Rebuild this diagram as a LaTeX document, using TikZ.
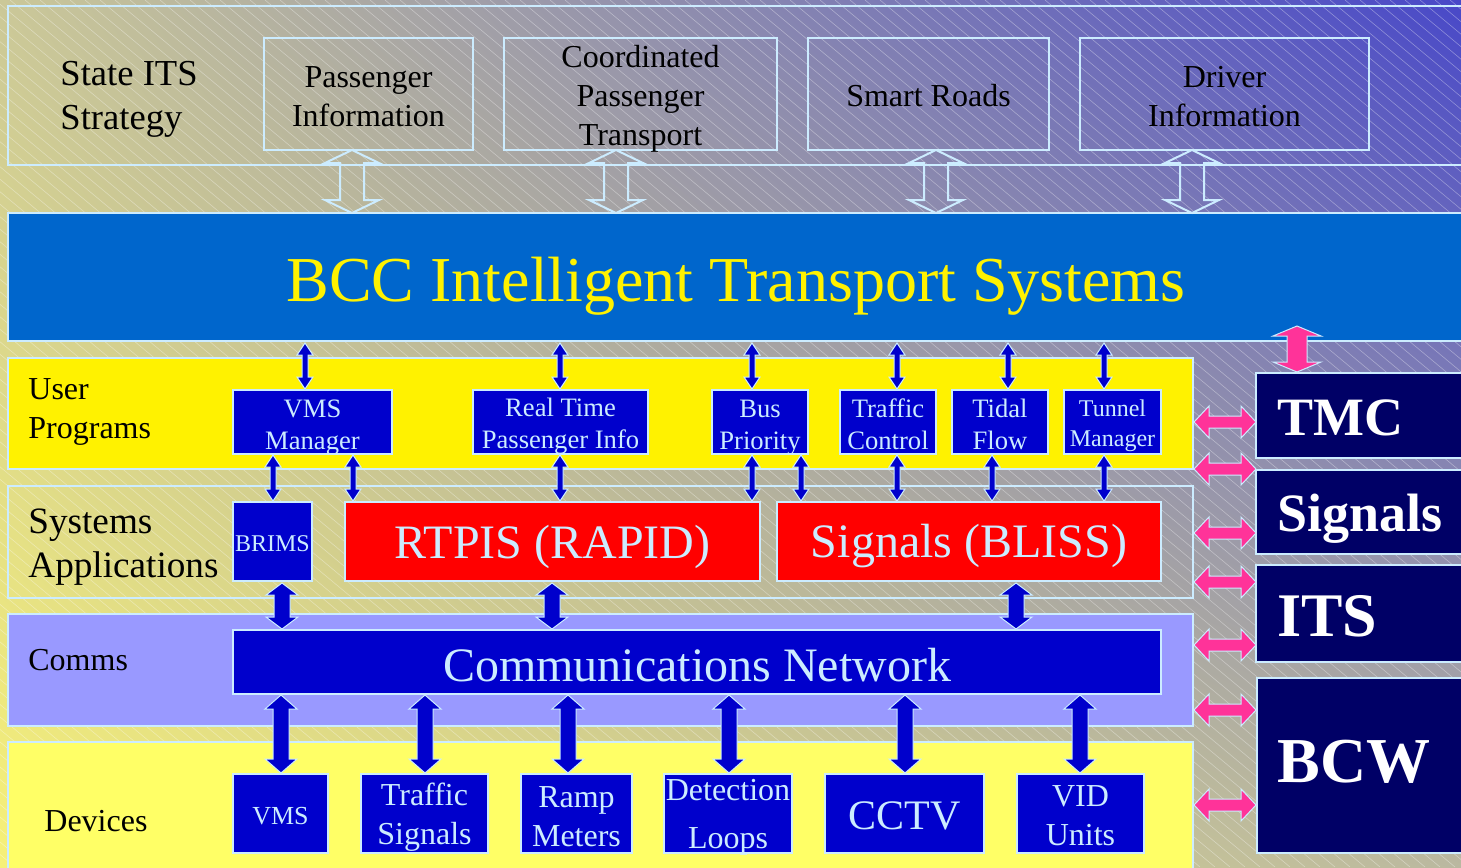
\documentclass[tikz,border=0pt]{standalone}
\usepackage{fontspec}
\setmainfont{Liberation Serif}
\usetikzlibrary{shadings}
\definecolor{lc}{RGB}{204,236,255}
\definecolor{bblue}{RGB}{0,0,204}
\definecolor{banner}{RGB}{0,102,204}
\definecolor{navyb}{RGB}{0,0,102}
\definecolor{comm}{RGB}{153,153,255}
\definecolor{devy}{RGB}{255,255,102}
\definecolor{pinkar}{RGB}{255,51,153}
\definecolor{bgUL}{RGB}{203,200,152}
\definecolor{bgUR}{RGB}{72,72,200}
\definecolor{bgLL}{RGB}{246,240,120}
\definecolor{bgLR}{RGB}{186,184,160}
\newcommand\fs[2]{\fontsize{#1}{#2}\selectfont}
\newcommand\tys{-2pt}
% box by corners: style, name, x1, y1, x2, y2, text (text placed as own node, shifted by tys)
\newcommand\bx[7]{%
  \node[tys=-2pt, #1, minimum width={(#5-#3)*0.5pt}, minimum height={(#6-#4)*0.5pt}] (#2) at ({(#3+#5)/2},{(#4+#6)/2}) {};
  \node[tys=-2pt, #1, draw=none, fill=none, inner sep=0pt, yshift=\tys] (#2t) at (#2.center) {#7};}
% vertical double block arrow: style, x, ytop, ybot, shaft half, head half, head length
\newcommand\vda[7]{\draw[#1] (#2,#3) -- ({#2+#6},{#3+#7}) -- ({#2+#5},{#3+#7}) -- ({#2+#5},{#4-#7}) -- ({#2+#6},{#4-#7}) -- (#2,#4) -- ({#2-#6},{#4-#7}) -- ({#2-#5},{#4-#7}) -- ({#2-#5},{#3+#7}) -- ({#2-#6},{#3+#7}) -- cycle;}
% horizontal double block arrow: style, y, xleft, xright, shaft half, head half, head length
\newcommand\hda[7]{\draw[#1] (#3,#2) -- ({#3+#7},{#2-#6}) -- ({#3+#7},{#2-#5}) -- ({#4-#7},{#2-#5}) -- ({#4-#7},{#2-#6}) -- (#4,#2) -- ({#4-#7},{#2+#6}) -- ({#4-#7},{#2+#5}) -- ({#3+#7},{#2+#5}) -- ({#3+#7},{#2+#6}) -- cycle;}
\tikzset{
  tys/.code={\def\tys{#1}},
  frame/.style={draw=lc, line width=1pt, inner sep=0pt, outer sep=0pt},
  bbox/.style={frame, fill=bblue, text=lc, align=center},
  rbox/.style={frame, fill=red, text=lc, align=center},
  nbox/.style={frame, fill=navyb},
  tbox/.style={frame, align=center, text=black},
  ntext/.style={text=white, anchor=west, inner sep=0pt},
  lbl/.style={anchor=west, align=left, inner sep=0pt, text=black},
  hollow/.style={draw=lc, line width=1pt, line join=miter},
  barrow/.style={fill=bblue, draw=lc, line width=0.5pt},
  parrow/.style={fill=pinkar, draw=lc, line width=0.5pt},
  hatch/.style={white, opacity=0.35, line width=0.3pt}
}
\begin{document}
\begin{tikzpicture}[x=0.5pt,y=-0.5pt]
\useasboundingbox (0,0) rectangle (1461,867);
\clip (0,0) rectangle (1461,867);
% background
\shade[upper left=bgUL, upper right=bgUR, lower left=bgLL, lower right=bgLR] (0,0) rectangle (1461,867);
\foreach \k in {-1100,-1085,...,1460} \draw[hatch] (\k,0) -- ++(1040,867);

% State ITS strategy layer
\bx{frame}{stateframe}{8}{6}{1475}{165}{}
\node[lbl, font=\fs{18.3}{22}] (stateits) at (60,99) {State ITS\\Strategy};
\bx{tbox, tys=-1.5pt, font=\fs{16}{19.5}}{passinfo}{264}{38}{473}{150}{Passenger\\Information}
\bx{tbox, tys=-2.5pt, font=\fs{16}{19.5}}{cpt}{504}{38}{777}{150}{Coordinated\\Passenger\\Transport}
\bx{tbox, tys=-1pt, font=\fs{16}{19.5}}{smart}{808}{38}{1049}{150}{Smart Roads}
\bx{tbox, tys=-1.5pt, font=\fs{16}{19.5}}{driver}{1080}{38}{1369}{150}{Driver\\Information}

% banner
\bx{frame, fill=banner}{bcc}{8}{213}{1475}{341}{}
\node[text=yellow, font=\fs{32}{36}, inner sep=0pt] (bcct) at (736,286) {BCC Intelligent Transport Systems};

% hollow arrows
\vda{hollow}{352}{150}{213}{12}{27}{13}
\vda{hollow}{616}{150}{213}{12}{27}{13}
\vda{hollow}{936}{150}{213}{12}{27}{13}
\vda{hollow}{1192}{150}{213}{12}{27}{13}

% layers
\bx{frame, fill=yellow}{userlayer}{8}{358}{1193}{469}{}
\node[lbl, font=\fs{16}{19.5}] (userlbl) at (28,412) {User\\Programs};
\bx{frame}{syslayer}{8}{486}{1193}{598}{}
\node[lbl, font=\fs{18.6}{22}] (syslbl) at (28,547) {Systems\\Applications};
\bx{frame, fill=comm}{commlayer}{8}{614}{1193}{726}{}
\node[lbl, font=\fs{16}{19.5}] (commlbl) at (28,660) {Comms};
\bx{frame, fill=devy}{devlayer}{8}{742}{1193}{880}{}
\node[lbl, font=\fs{16}{19.5}] (devlbl) at (44,821) {Devices};

% user programs
\bx{bbox, tys=-3pt, font=\fs{13.3}{16}}{vmsm}{233}{390}{392}{454}{VMS\\Manager}
\bx{bbox, tys=-2pt, font=\fs{13.3}{16}}{rtpi}{473}{390}{648}{454}{Real Time\\Passenger Info}
\bx{bbox, tys=-3pt, font=\fs{13.3}{16}}{busp}{712}{390}{808}{454}{Bus\\Priority}
\bx{bbox, tys=-1pt, font=\fs{13.3}{16}}{tctl}{840}{390}{936}{454}{Traffic\\Control}
\bx{bbox, tys=-1pt, font=\fs{13.3}{16}}{tidal}{952}{390}{1048}{454}{Tidal\\Flow}
\bx{bbox, tys=-1.8pt, font=\fs{12}{15}}{tunnel}{1064}{390}{1161}{454}{Tunnel\\Manager}

% systems
\bx{bbox, tys=-1pt, font=\fs{12}{14}}{brims}{233}{502}{312}{581}{BRIMS}
\bx{rbox, tys=-2.5pt, font=\fs{24}{28}}{rtpis}{345}{502}{760}{581}{RTPIS (RAPID)}
\bx{rbox, tys=-2.5pt, font=\fs{24}{28}}{bliss}{777}{502}{1161}{581}{Signals (BLISS)}

% comms
\bx{bbox, tys=-1.5pt, font=\fs{24}{28}}{cnet}{233}{630}{1161}{694}{Communications Network}

% devices
\bx{bbox, tys=-1.5pt, font=\fs{13}{16}}{vms}{233}{774}{328}{853}{VMS}
\bx{bbox, tys=-2pt, font=\fs{16}{19.5}}{tsig}{361}{774}{488}{853}{Traffic\\Signals}
\bx{bbox, tys=-1.5pt, font=\fs{16}{19.5}}{ramp}{521}{774}{632}{853}{Ramp\\Meters}
\bx{bbox, tys=-2pt, font=\fs{16}{24}}{detl}{664}{774}{792}{853}{Detection\\Loops}
\bx{bbox, tys=-1pt, font=\fs{21}{24}}{cctv}{825}{774}{984}{853}{CCTV}
\bx{bbox, tys=-1pt, font=\fs{16}{19.5}}{vid}{1017}{774}{1144}{853}{VID\\Units}

% right side
\bx{nbox}{tmc}{1256}{373}{1475}{458}{}
\node[ntext, font=\fs{27}{30}\bfseries] (tmct) at (1277,418) {TMC};
\bx{nbox}{sigs}{1256}{470}{1475}{554}{}
\node[ntext, font=\fs{27}{30}\bfseries] (sigst) at (1277,519) {Signals};
\bx{nbox}{its}{1256}{565}{1475}{662}{}
\node[ntext, font=\fs{31}{34}\bfseries] (itst) at (1277,616) {ITS};
\bx{nbox}{bcw}{1257}{678}{1475}{853}{}
\node[ntext, font=\fs{32}{36}\bfseries] (bcwt) at (1277,762) {BCW};

% small blue arrows banner -> user programs
\foreach \x in {305,560,752,897,1008,1104} {\vda{barrow}{\x}{343}{389}{3}{8}{12}}
% small blue arrows user programs -> systems
\foreach \x in {273,353,560,752,801,897,992,1104} {\vda{barrow}{\x}{455}{501}{3}{8}{12}}
% big blue arrows systems -> comms
\foreach \x in {282,552,1016} {\vda{barrow}{\x}{583}{629}{8}{16}{12}}
% big blue arrows comms -> devices
\foreach \x in {281,425,568,729,905,1080} {\vda{barrow}{\x}{695}{773}{8}{16}{14}}

% pink arrows
\foreach \y in {422,469,533,582,645,710,805} {\hda{parrow}{\y}{1194}{1256}{6}{16}{15}}
\vda{parrow}{1297}{326}{372}{10}{24}{10}
\end{tikzpicture}
\end{document}
